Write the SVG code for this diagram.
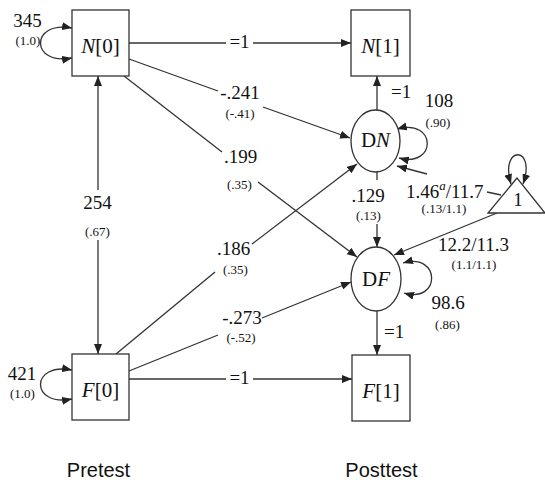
<svg xmlns="http://www.w3.org/2000/svg" width="545" height="480" viewBox="0 0 545 480">
<defs>
<marker id="ah" markerUnits="userSpaceOnUse" markerWidth="11" markerHeight="8" refX="10" refY="4" orient="auto-start-reverse">
<path d="M0,0 L10,4 L0,8 z" fill="#222"/>
</marker>
<style>
.node{fill:#fff;stroke:#333;stroke-width:1.3}
.c{fill:none;stroke:#333;stroke-width:1.3}
.a{marker-end:url(#ah)}
.b{marker-start:url(#ah);marker-end:url(#ah)}
text{font-family:"Liberation Serif","Times New Roman",serif;fill:#111}
.lg{font-size:21px}
.md{font-size:19px}
.sm{font-size:13px}
.i{font-style:italic}
text.s{font-family:"Liberation Sans",Arial,sans-serif;font-size:20px}
</style>
</defs>
<g id="connectors">
<line class="c a" x1="98" y1="190" x2="98" y2="76"/>
<line class="c a" x1="98" y1="240" x2="98" y2="354"/>
<line class="c" x1="129" y1="43" x2="226" y2="43"/>
<line class="c a" x1="253" y1="43" x2="351" y2="43"/>
<line class="c" x1="129" y1="379" x2="226" y2="379"/>
<line class="c a" x1="253" y1="379" x2="352" y2="379"/>
<line class="c" x1="129" y1="59" x2="218" y2="91"/>
<line class="c a" x1="263" y1="107" x2="350" y2="138"/>
<line class="c" x1="124" y1="76" x2="222" y2="152"/>
<line class="c a" x1="258" y1="182" x2="357" y2="257"/>
<line class="c" x1="116" y1="354" x2="215" y2="272"/>
<line class="c a" x1="252" y1="244" x2="357" y2="164"/>
<line class="c" x1="129" y1="371" x2="218" y2="335"/>
<line class="c a" x1="262" y1="318" x2="351" y2="282"/>
<line class="c a" x1="377" y1="110" x2="377" y2="76"/>
<line class="c" x1="377" y1="172" x2="377" y2="180"/>
<line class="c a" x1="377" y1="224" x2="377" y2="247"/>
<line class="c a" x1="377" y1="311" x2="377" y2="355"/>
<line class="c" x1="501" y1="195" x2="487" y2="192"/>
<line class="c a" x1="427" y1="174" x2="397" y2="166"/>
<line class="c a" x1="497" y1="213" x2="394" y2="255"/>
<path class="c b" d="M72,28 C30,20 30,66 72,58"/>
<path class="c b" d="M72,370 C30,362 30,407 72,399"/>
<path class="c b" d="M397,129 C437,118 437,168 399,158"/>
<path class="c b" d="M403,263 C441,252 441,304 404,293"/>
<path class="c b" d="M511,184 C499,145 537,145 523,184"/>
</g>
<g id="N0">
<rect class="node" x="72" y="10" width="57" height="66"/>
<text class="lg" x="100.5" y="53" text-anchor="middle"><tspan class="i">N</tspan>[0]</text>
</g>
<g id="N1">
<rect class="node" x="351" y="10" width="59" height="66"/>
<text class="lg" x="380.5" y="53" text-anchor="middle"><tspan class="i">N</tspan>[1]</text>
</g>
<g id="F0">
<rect class="node" x="72" y="354" width="57" height="66"/>
<text class="lg" x="100.5" y="397" text-anchor="middle"><tspan class="i">F</tspan>[0]</text>
</g>
<g id="F1">
<rect class="node" x="352" y="355" width="58" height="66"/>
<text class="lg" x="381" y="398" text-anchor="middle"><tspan class="i">F</tspan>[1]</text>
</g>
<g id="DN">
<ellipse class="node" cx="375.5" cy="141" rx="24.5" ry="31"/>
<text class="lg" x="375.5" y="147" text-anchor="middle">D<tspan class="i">N</tspan></text>
</g>
<g id="DF">
<ellipse class="node" cx="376" cy="279" rx="25" ry="32"/>
<text class="lg" x="376" y="286" text-anchor="middle">D<tspan class="i">F</tspan></text>
</g>
<g id="one">
<polygon class="node" points="517,178 488,213 545,213"/>
<text class="md" x="518" y="206" text-anchor="middle">1</text>
</g>
<g id="labels">
<text class="md" x="27.5" y="27" text-anchor="middle">345</text>
<text class="sm" x="28" y="45" text-anchor="middle">(1.0)</text>
<text class="md" x="22" y="380" text-anchor="middle">421</text>
<text class="sm" x="22.5" y="398" text-anchor="middle">(1.0)</text>
<text class="md" x="239.5" y="48" text-anchor="middle">=1</text>
<text class="md" x="239.5" y="384" text-anchor="middle">=1</text>
<text class="md" x="240" y="99" text-anchor="middle">-.241</text>
<text class="sm" x="240" y="118" text-anchor="middle">(-.41)</text>
<text class="md" x="240.5" y="163" text-anchor="middle">.199</text>
<text class="sm" x="239.5" y="189" text-anchor="middle">(.35)</text>
<text class="md" x="233.5" y="255" text-anchor="middle">.186</text>
<text class="sm" x="235.5" y="274" text-anchor="middle">(.35)</text>
<text class="md" x="242" y="324" text-anchor="middle">-.273</text>
<text class="sm" x="241" y="342" text-anchor="middle">(-.52)</text>
<text class="md" x="97.5" y="209" text-anchor="middle">254</text>
<text class="sm" x="97.5" y="236" text-anchor="middle">(.67)</text>
<text class="md" x="368" y="202" text-anchor="middle">.129</text>
<text class="sm" x="368.5" y="220" text-anchor="middle">(.13)</text>
<text class="md" x="391" y="98">=1</text>
<text class="md" x="439" y="107" text-anchor="middle">108</text>
<text class="sm" x="438" y="127" text-anchor="middle">(.90)</text>
<text class="md" x="406" y="198">1.46<tspan class="i" font-size="13" dy="-8">a</tspan><tspan dy="8">/11.7</tspan></text>
<text class="sm" x="444" y="213" text-anchor="middle">(.13/1.1)</text>
<text class="md" x="473.5" y="251" text-anchor="middle">12.2/11.3</text>
<text class="sm" x="474" y="269" text-anchor="middle">(1.1/1.1)</text>
<text class="md" x="448" y="309" text-anchor="middle">98.6</text>
<text class="sm" x="447.5" y="329" text-anchor="middle">(.86)</text>
<text class="md" x="384" y="338">=1</text>
</g>
<g id="footer">
<text class="s" x="98.5" y="477" text-anchor="middle">Pretest</text>
<text class="s" x="381.5" y="477" text-anchor="middle">Posttest</text>
</g>
</svg>
